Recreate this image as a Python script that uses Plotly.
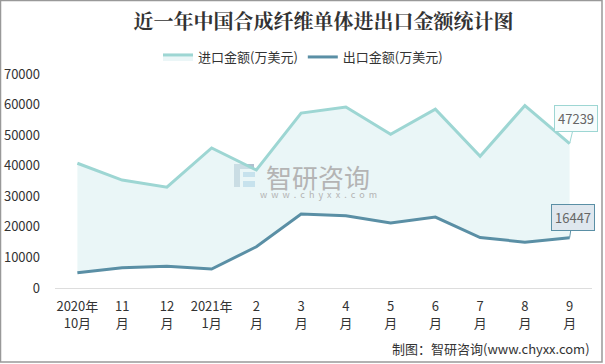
import plotly.graph_objects as go

categories = ["2020年<br>10月", "11<br>月", "12<br>月", "2021年<br>1月", "2<br>月", "3<br>月",
              "4<br>月", "5<br>月", "6<br>月", "7<br>月", "8<br>月", "9<br>月"]
import_vals = [40800, 35300, 33000, 45800, 38600, 57200, 59200, 50300, 58500, 43100, 59700, 47239]
export_vals = [5000, 6600, 7100, 6200, 13500, 24200, 23600, 21300, 23200, 16500, 15000, 16447]
import_name = "进口金额(万美元)"
export_name = "出口金额(万美元)"
title_text = "近一年中国合成纤维单体进出口金额统计图"
footer_text = "制图：智研咨询(www.chyxx.com)"

W, H = 605, 364
L, R, T, B = 55, 13, 74, 76
PW, PH = W - L - R, H - T - B

def px_x(px):
    return (px - L) / PW

def px_y(py):
    return (H - B - py) / PH

IMP_C = "#9dd6d3"
EXP_C = "#5a8fa5"
FONT = "Noto Sans CJK SC, Microsoft YaHei, sans-serif"

fig = go.Figure()
fig.add_trace(go.Scatter(x=categories, y=export_vals, name=export_name, mode="lines",
                         line=dict(color=EXP_C, width=3)))
fig.add_trace(go.Scatter(x=categories, y=import_vals, name=import_name, mode="lines",
                         line=dict(color=IMP_C, width=3), fill="tonexty",
                         fillcolor="rgba(220,240,242,0.6)"))

ann = []
ann.append(dict(x=categories[-1], y=import_vals[-1], text=str(import_vals[-1]), showarrow=True,
                ax=6, ay=-25, arrowhead=0, arrowwidth=1, arrowcolor=IMP_C, standoff=0,
                bgcolor="#f6fcfc", bordercolor=IMP_C, borderwidth=1, borderpad=3,
                font=dict(size=13, color="#666", family=FONT)))
ann.append(dict(x=categories[-1], y=export_vals[-1], text=str(export_vals[-1]), showarrow=True,
                ax=3, ay=-20, arrowhead=0, arrowwidth=1, arrowcolor=EXP_C, standoff=0,
                bgcolor="#dfe7ee", bordercolor=EXP_C, borderwidth=1, borderpad=3,
                font=dict(size=13, color="#666", family=FONT)))
# watermark
ann.append(dict(xref="paper", yref="paper", x=px_x(318), y=px_y(176), text="智研咨询",
                showarrow=False, font=dict(size=26, color="#b4b4b4", family=FONT)))
ann.append(dict(xref="paper", yref="paper", x=px_x(318), y=px_y(194),
                text="w  w  w  .  c  h  y  x  x  .  c  o  m",
                showarrow=False, font=dict(size=9, color="#b4b4b4", family=FONT)))
ann.append(dict(xref="paper", yref="paper", x=1.0, y=px_y(348), xanchor="right", yanchor="middle",
                text=footer_text, showarrow=False, font=dict(size=13, color="#333", family=FONT)))

shapes = [
    dict(type="rect", xref="paper", yref="paper", x0=px_x(0.5), x1=px_x(602), y0=px_y(0.5), y1=px_y(362),
         line=dict(color="#999", width=1.5), fillcolor="rgba(0,0,0,0)", layer="below"),
    # watermark logo
    dict(type="rect", xref="paper", yref="paper", x0=px_x(234), x1=px_x(254), y0=px_y(164), y1=px_y(169),
         line=dict(width=0), fillcolor="#b0c0d0", layer="below"),
    dict(type="rect", xref="paper", yref="paper", x0=px_x(234), x1=px_x(240), y0=px_y(169), y1=px_y(187),
         line=dict(width=0), fillcolor="#b0c0d0", layer="below"),
    dict(type="rect", xref="paper", yref="paper", x0=px_x(243), x1=px_x(255), y0=px_y(172), y1=px_y(177),
         line=dict(width=0), fillcolor="#a8cce6", layer="below"),
    dict(type="rect", xref="paper", yref="paper", x0=px_x(243), x1=px_x(255), y0=px_y(181), y1=px_y(187),
         line=dict(width=0), fillcolor="#a8cce6", layer="below"),
]

fig.update_layout(
    width=W, height=H, margin=dict(l=L, r=R, t=T, b=B, autoexpand=False),
    paper_bgcolor="white", plot_bgcolor="white",
    title=dict(text="<b>" + title_text + "</b>", x=0.5, xref="paper", xanchor="center",
               y=1 - 22 / H, yref="container", yanchor="middle",
               font=dict(size=20, color="#333", family="Noto Serif CJK SC, " + FONT)),
    legend=dict(orientation="h", x=px_x(303), xanchor="center", y=px_y(57), yanchor="middle",
                traceorder="reversed", itemwidth=30,
                font=dict(size=13, color="#333", family=FONT), bgcolor="rgba(0,0,0,0)"),
    xaxis=dict(type="category", range=[-0.5, 11.5], showgrid=False, showline=True, automargin=False,
               linecolor="#dddddd", linewidth=1, ticks="", tickfont=dict(size=13, color="#333", family=FONT),
               ticklabelstandoff=6),
    yaxis=dict(range=[0, 70000], dtick=10000, showgrid=False, zeroline=False, showline=False, automargin=False,
               tickformat="d", tickfont=dict(size=13, color="#333", family=FONT), ticklabelstandoff=14),
    annotations=ann, shapes=shapes, showlegend=True,
)
fig.write_html("out.html", config={"displayModeBar": False},
               post_script="document.body.style.margin='0';document.body.style.overflow='hidden';")
